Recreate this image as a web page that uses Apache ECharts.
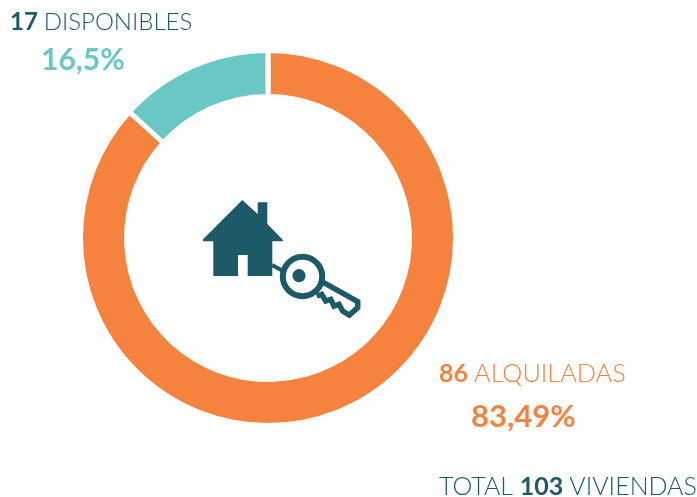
<!DOCTYPE html>
<html><head><meta charset="utf-8">
<style>html,body{margin:0;padding:0;background:#fff}#c{width:697px;height:497px}</style>
<script src="https://cdn.jsdelivr.net/npm/echarts@6/dist/echarts.min.js"></script>
</head><body><div id="c"></div>
<script>
const categories = ['ALQUILADAS', 'DISPONIBLES'];
const counts = [86, 17];
const percentLabels = ['83,49%', '16,5%'];
const total = 103;
// arc shares as drawn in the picture (teal arc spans about 47 degrees)
const arcShares = [86.75, 13.25];
const colors = ['#F5833D', '#69C8C3'];
const dark = '#1D5A69';
const font = 'Lato';

function txt(x, y, parts) {
  const rich = {}; let s = '';
  parts.forEach((p, i) => { rich['p' + i] = {fontFamily: font, fontSize: p[1], fontWeight: p[2], fill: p[3], color: p[3]}; s += '{p' + i + '|' + p[0] + '}'; });
  return {type: 'text', x, y, style: {text: s, rich, fontFamily: font, textVerticalAlign: 'middle'}};
}
const chart = echarts.init(document.getElementById('c'), null, {renderer: 'canvas'});
chart.setOption({
  animation: false,
  backgroundColor: '#fff',
  series: [{
    type: 'pie', center: [268, 238], radius: [141.5, 187.5], startAngle: 90, clockwise: true,
    label: {show: false}, labelLine: {show: false}, silent: true,
    itemStyle: {borderColor: '#fff', borderWidth: 5},
    data: categories.map((n, i) => ({name: n, value: arcShares[i], itemStyle: {color: colors[i]}}))
  }],
  graphic: [
    txt(10, 22, [[counts[1] + ' ', 24, 700, dark], [categories[1], 24, 300, dark]]),
    txt(41, 60, [[percentLabels[1], 30, 700, colors[1]]]),
    txt(439, 374, [[counts[0] + ' ', 25, 700, colors[0]], [categories[0], 25.3, 300, colors[0]]]),
    txt(471, 417, [[percentLabels[0], 31, 700, colors[0]]]),
    txt(439, 487, [['TOTAL ', 25, 300, dark], [total + ' ', 25, 700, dark], ['VIVIENDAS', 25, 300, dark]]),
    {type: 'polygon', shape: {points: [[242.3,200],[257.7,214],[257.7,202.3],[267.3,202.3],[267.3,224],[283,240],[283,241.3],[272.3,241.3],[272.3,276],[247.7,276],[247.7,255],[238,255],[238,276],[213.3,276],[213.3,241.3],[203,241.3],[203,239.3]]}, style: {fill: dark}},
    {type: 'circle', shape: {cx: 302.5, cy: 276.5, r: 19.7}, style: {fill: 'none', stroke: dark, lineWidth: 6}},
    {type: 'circle', shape: {cx: 299, cy: 275.7, r: 6.6}, style: {fill: dark}},
    {type: 'line', shape: {x1: 272, y1: 265, x2: 283, y2: 271}, style: {stroke: dark, lineWidth: 4}},
    {type: 'polyline', shape: {points: [[323.3,282.3],[357.7,301.7],[357.7,307.7],[349.3,315],[342.7,311],[339,304.3],[334,306],[330.7,299.3],[325.7,301],[321.7,294.3],[316.7,296]]}, style: {fill: 'none', stroke: dark, lineWidth: 5.5, lineJoin: 'miter'}}
  ]
});
</script></body></html>
